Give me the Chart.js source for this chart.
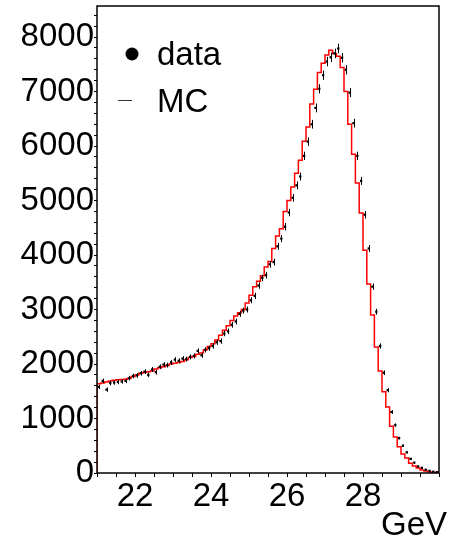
<!DOCTYPE html>
<html>
<head>
<meta charset="utf-8">
<script src="https://cdn.jsdelivr.net/npm/chart.js@4.4.0/dist/chart.umd.min.js"></script>
<style>
  body { margin: 0; background: #fff; }
  canvas { display: block; }
</style>
</head>
<body>
<canvas id="hist" width="451" height="537"></canvas>
<script>
// binning of the histogram (GeV)
var xLow = 21, xHigh = 30, binWidth = 0.1;
var yMax = 8570;
var xTickLabels = [22, 24, 26, 28];
var yTickLabels = [0, 1000, 2000, 3000, 4000, 5000, 6000, 7000, 8000];

// MC histogram, one value per bin
var mcCounts = [
    1610, 1640, 1650, 1670, 1690, 1700, 1710, 1715, 1720, 1740,
    1770, 1800, 1830, 1845, 1860, 1870, 1910, 1930, 1950, 1975,
    2000, 2015, 2030, 2045, 2080, 2120, 2140, 2180, 2200, 2260,
    2320, 2370, 2440, 2530, 2620, 2700, 2800, 2880, 2940, 3000,
    3120, 3260, 3420, 3520, 3620, 3780, 3880, 4120, 4350, 4480,
    4800, 5000, 5250, 5500, 5740, 6090, 6350, 6770, 7040, 7350,
    7520, 7670, 7760, 7700, 7650, 7440, 7000, 6400, 5850, 5320,
    4770, 4090, 3470, 2900, 2310, 1870, 1490, 1210, 860, 660,
    480, 350, 275, 180, 130, 90, 55, 35, 20, 12
];

// data, one value per bin
var dataCounts = [
    1580, 1690, 1530, 1650, 1660, 1670, 1680, 1690, 1740, 1780,
    1790, 1830, 1860, 1800, 1900, 1850, 1950, 1990, 1980, 2030,
    2080, 2060, 2100, 2090, 2130, 2150, 2240, 2160, 2260, 2290,
    2330, 2400, 2420, 2560, 2600, 2720, 2780, 2920, 2980, 3000,
    3170, 3250, 3440, 3580, 3630, 3830, 3870, 4160, 4300, 4520,
    4780, 5050, 5280, 5440, 5820, 6080, 6400, 6700, 7050, 7300,
    7550, 7630, 7700, 7790, 7620, 7400, 6980, 6420, 5820, 5360,
    4740, 4120, 3420, 2960, 2330, 1840, 1520, 1120, 880, 640,
    500, 380, 260, 190, 120, 95, 60, 40, 25, 15
];

var fontFamily = '"Liberation Sans", Arial, sans-serif';

var mcPoints = [{ x: xLow, y: 0 }];
for (var i = 0; i < mcCounts.length; i++) {
    mcPoints.push({ x: xLow + i * binWidth, y: mcCounts[i] });
}
mcPoints.push({ x: xHigh, y: mcCounts[mcCounts.length - 1] });

var dataPoints = [];
for (var j = 0; j < dataCounts.length; j++) {
    dataPoints.push({ x: xLow + (j + 0.5) * binWidth, y: dataCounts[j] });
}

// major + minor ticks: labels only where listed
var makeTicks = function (from, to, step) {
    var out = [];
    for (var k = 0; from + k * step <= to + 1e-9; k++) {
        out.push({ value: Math.round((from + k * step) * 1000) / 1000 });
    }
    return out;
};

// vertical error bars on the data points
var errorBars = {
    id: 'errorBars',
    afterDatasetsDraw: function (chart) {
        var ctx = chart.ctx;
        var yScale = chart.scales.y;
        var meta = chart.getDatasetMeta(0);
        ctx.save();
        ctx.strokeStyle = '#000';
        ctx.lineWidth = 1;
        meta.data.forEach(function (pt, k) {
            var v = dataCounts[k];
            var err = Math.sqrt(v);
            var top = yScale.getPixelForValue(v + err);
            var bot = yScale.getPixelForValue(v - err);
            ctx.beginPath();
            ctx.moveTo(Math.round(pt.x) + 0.5, top);
            ctx.lineTo(Math.round(pt.x) + 0.5, bot);
            ctx.stroke();
        });
        ctx.restore();
    }
};

// frame, legend and axis title
var decorations = {
    id: 'decorations',
    afterDraw: function (chart) {
        var ctx = chart.ctx;
        var a = chart.chartArea;
        ctx.save();
        ctx.strokeStyle = '#000';
        ctx.lineWidth = 1.5;
        ctx.strokeRect(a.left, a.top, a.right - a.left, a.bottom - a.top);

        ctx.fillStyle = '#000';
        ctx.beginPath();
        ctx.arc(132, 54, 6.5, 0, Math.PI * 2);
        ctx.fill();

        ctx.strokeStyle = '#333';
        ctx.lineWidth = 1;
        ctx.beginPath();
        ctx.moveTo(118, 100.5);
        ctx.lineTo(132, 100.5);
        ctx.stroke();

        ctx.font = '33px ' + fontFamily;
        ctx.textBaseline = 'alphabetic';
        ctx.textAlign = 'left';
        ctx.fillText('data', 157, 65);
        ctx.fillText('MC', 157, 112);

        ctx.textAlign = 'right';
        ctx.fillText('GeV', 447, 535);
        ctx.restore();
    }
};

var chart = new Chart(document.getElementById('hist'), {
    type: 'scatter',
    data: {
        datasets: [{
            label: 'data',
            data: dataPoints,
            showLine: false,
            pointStyle: 'rect',
            pointRadius: 1.6,
            backgroundColor: '#000',
            borderColor: '#000',
            borderWidth: 0
        }, {
            label: 'MC',
            data: mcPoints,
            showLine: true,
            stepped: 'after',
            pointRadius: 0,
            borderColor: '#ff0000',
            borderWidth: 1.5,
            fill: false
        }]
    },
    options: {
        responsive: false,
        devicePixelRatio: 1,
        animation: false,
        layout: { padding: { top: 6, right: 12, left: 0, bottom: 0 } },
        plugins: {
            legend: { display: false },
            tooltip: { enabled: false }
        },
        scales: {
            x: {
                type: 'linear',
                min: xLow,
                max: xHigh,
                afterBuildTicks: function (s) { s.ticks = makeTicks(xLow, xHigh, 0.5); },
                afterFit: function (s) {
                    s.height = 64;
                    s.paddingLeft = 0;
                    s.paddingRight = 0;
                },
                ticks: {
                    autoSkip: false,
                    maxRotation: 0,
                    padding: 0,
                    color: '#000',
                    font: { size: 33, family: fontFamily },
                    callback: function (v) { return xTickLabels.indexOf(v) >= 0 ? String(v) : ''; }
                },
                grid: { drawOnChartArea: false, tickLength: 4, color: '#000', lineWidth: 1 },
                border: { display: false }
            },
            y: {
                min: 0,
                max: yMax,
                afterBuildTicks: function (s) { s.ticks = makeTicks(0, yMax, 200); },
                afterFit: function (s) {
                    s.width = 97;
                    s.paddingTop = 0;
                    s.paddingBottom = 0;
                },
                ticks: {
                    autoSkip: false,
                    padding: 0,
                    color: '#000',
                    font: { size: 33, family: fontFamily },
                    callback: function (v) { return yTickLabels.indexOf(v) >= 0 ? String(v) : ''; }
                },
                grid: { drawOnChartArea: false, tickLength: 3, color: '#000', lineWidth: 1 },
                border: { display: false }
            }
        }
    },
    plugins: [errorBars, decorations]
});
</script>
</body>
</html>
